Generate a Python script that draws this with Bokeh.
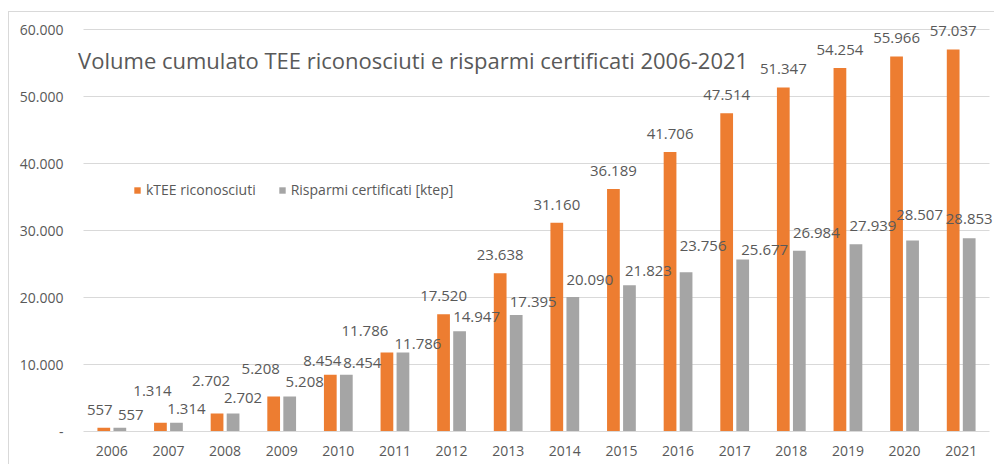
from bokeh.plotting import figure
from bokeh.models import (ColumnDataSource, FactorRange, Range1d, FixedTicker,
                          Legend, LegendItem, Label)
from bokeh.transform import dodge
from bokeh.core.properties import value
from bokeh.embed import file_html
from bokeh.resources import INLINE

# ---- data ----
years = ["2006", "2007", "2008", "2009", "2010", "2011", "2012", "2013",
         "2014", "2015", "2016", "2017", "2018", "2019", "2020", "2021"]
ktee = [557, 1314, 2702, 5208, 8454, 11786, 17520, 23638,
        31160, 36189, 41706, 47514, 51347, 54254, 55966, 57037]
risparmi = [557, 1314, 2702, 5208, 8454, 11786, 14947, 17395,
            20090, 21823, 23756, 25677, 26984, 27939, 28507, 28853]
y_ticks = [0, 10000, 20000, 30000, 40000, 50000, 60000]
y_tick_labels = ["-", "10.000", "20.000", "30.000", "40.000", "50.000", "60.000"]
title_text = "Volume cumulato TEE riconosciuti e risparmi certificati 2006-2021"
series_names = ["kTEE riconosciuti", "Risparmi certificati [ktep]"]

# data-label placement nudges (pixels), as arranged in the original chart
orange_dx = [-4, -8, -6, -13, -8, -22, 0, 0, 0, 0, 0, 0, 0, 0, 0, 0]
orange_lift = [17, 30, 31, 26, 13, 20, 17, 17, 17, 17, 17, 17, 17, 17, 17, 17]
gray_dx = [11, 10, 10, 15, 16, 15, 17, 17, 17, 19, 17, 22, 17, 17, 7, 0]
gray_lift = [12, 12, 14, 13, 11, 7, 13, 12, 16, 13, 25, 8, 17, 17, 24, 18]

ORANGE = "#ED7D31"
GRAY = "#A5A5A5"
TEXT = "#595959"
GRID = "#D9D9D9"
FONT = "Open Sans"
LBL_PX = 15
BASE_SHIFT = 0.4 * LBL_PX  # baseline-to-digit-centre correction (pixels)


def fmt(v):
    return f"{v:,}".replace(",", ".")


src = ColumnDataSource(dict(
    year=years, ktee=ktee, risparmi=risparmi,
    ktee_lbl=[fmt(v) for v in ktee],
    ris_lbl=[fmt(v) for v in risparmi],
    odx=orange_dx, ody=[-(d + BASE_SHIFT - 5.4) - 0.6 for d in orange_lift],
    gdx=gray_dx, gdy=[-(d + BASE_SHIFT - 5.4) - 0.6 for d in gray_lift],
))

n = len(years)
pad = 0.106
p = figure(x_range=FactorRange(*years, range_padding=pad,
                               range_padding_units="absolute"),
           y_range=Range1d(0, 61500),
           width=986, height=453, output_backend="svg", toolbar_location=None,
           min_border_left=68, min_border_right=0, min_border_top=7,
           min_border_bottom=34)
p.styles = {"margin-left": "8px", "margin-top": "11px",
            "border-top": f"1px solid {GRID}", "border-left": f"1px solid {GRID}"}
p.outline_line_color = None
p.background_fill_color = "white"
p.border_fill_color = "white"

off = 0.1415
bw = 0.225
r1 = p.vbar(x=dodge("year", -off, range=p.x_range), top="ktee", width=bw,
            source=src, fill_color=ORANGE, line_color=None)
r2 = p.vbar(x=dodge("year", off, range=p.x_range), top="risparmi", width=bw,
            source=src, fill_color=GRAY, line_color=None)

p.text(x=dodge("year", -off, range=p.x_range), y="ktee", text="ktee_lbl",
       x_offset="odx", y_offset="ody", source=src,
       text_align="center", text_baseline="alphabetic",
       text_font=value(FONT), text_font_size=f"{LBL_PX}px", text_color=TEXT)
p.text(x=dodge("year", off, range=p.x_range), y="risparmi", text="ris_lbl",
       x_offset="gdx", y_offset="gdy", source=src,
       text_align="center", text_baseline="alphabetic",
       text_font=value(FONT), text_font_size=f"{LBL_PX}px", text_color=TEXT)

# title inside the plot area
p.add_layout(Label(x=-0.095, y=55500, text=title_text, text_align="left",
                   text_baseline="alphabetic", text_font=FONT,
                   text_font_size="22px", text_color=TEXT))

# axes
p.xaxis.bounds = (0, n)
p.xaxis.axis_line_color = GRID
p.xaxis.major_tick_line_color = None
p.xaxis.minor_tick_line_color = None
p.xaxis.major_tick_out = 0
p.xaxis.major_tick_in = 0
p.xaxis.major_label_text_font = FONT
p.xaxis.major_label_text_font_size = "14px"
p.xaxis.major_label_text_color = TEXT
p.xaxis.major_label_standoff = 14

p.yaxis.ticker = FixedTicker(ticks=y_ticks)
p.yaxis.major_label_overrides = {t: l for t, l in zip(y_ticks, y_tick_labels)}
p.yaxis.axis_line_color = None
p.yaxis.major_tick_line_color = None
p.yaxis.minor_tick_line_color = None
p.yaxis.major_tick_out = 0
p.yaxis.major_tick_in = 0
p.yaxis.major_label_text_font = FONT
p.yaxis.major_label_text_font_size = "14px"
p.yaxis.major_label_text_color = TEXT
p.yaxis.major_label_standoff = 14

p.xgrid.grid_line_color = None
p.ygrid.grid_line_color = GRID
p.ygrid.grid_line_width = 1
p.ygrid.cross_bounds = (0, n)

legend = Legend(items=[LegendItem(label=series_names[0], renderers=[r1]),
                       LegendItem(label=series_names[1], renderers=[r2])],
                orientation="horizontal", location=(56, 232),
                glyph_width=8, glyph_height=8, label_standoff=5, spacing=22,
                padding=0, margin=0, border_line_color=None,
                background_fill_alpha=0,
                label_text_font=FONT, label_text_font_size="14px",
                label_text_color=TEXT)
p.add_layout(legend)

open("out.html", "w").write(file_html(p, INLINE))
